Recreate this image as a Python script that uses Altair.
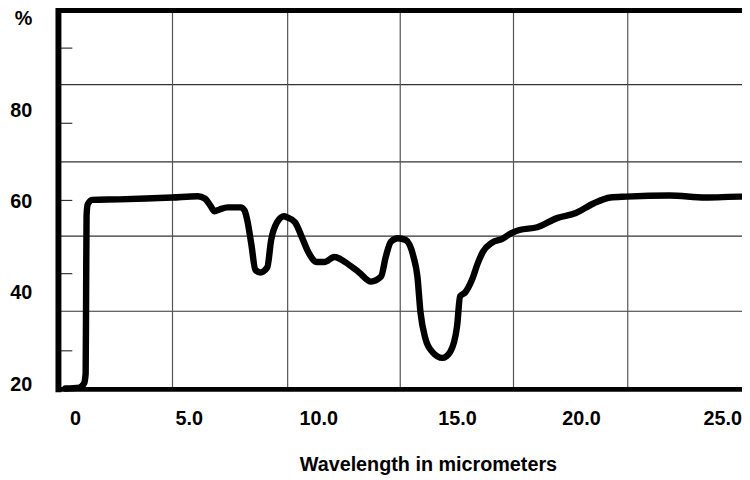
import altair as alt
import pandas as pd

# ---- data ----
wavelength = [-0.42, 0.19, 0.40, 0.47, 0.49, 0.51, 0.56, 0.75, 1.93, 4.27,
              5.35, 5.62, 5.85, 6.00, 6.19, 6.50, 7.00, 7.15, 7.26, 7.42,
              7.57, 7.76, 8.03, 8.18, 8.41, 8.68, 8.79, 9.10, 9.36, 9.63,
              9.94, 10.22, 10.58, 11.01, 11.47, 11.90, 12.26, 12.43, 12.61, 12.86,
              13.15, 13.43, 13.57, 13.68, 13.86, 14.11, 14.47, 14.75, 15.00, 15.12,
              15.32, 15.60, 15.84, 16.04, 16.40, 16.80, 17.19, 17.51, 18.23, 19.03,
              19.79, 20.44, 21.04, 21.60, 23.14, 24.40, 25.63, 25.70]
percent = [19.1, 19.3, 20.2, 22.4, 40.0, 57.0, 59.4, 60.4, 60.5, 60.9,
           61.2, 60.7, 59.0, 57.9, 58.3, 58.75, 58.75, 58.1, 55.9, 50.5,
           45.1, 44.5, 45.6, 51.6, 55.5, 56.8, 56.6, 55.5, 52.3, 48.8,
           46.8, 46.8, 47.9, 46.6, 44.5, 42.5, 43.6, 47.9, 51.2, 52.0,
           51.6, 47.9, 43.6, 35.8, 30.0, 27.1, 25.8, 27.1, 32.8, 39.3,
           40.1, 42.9, 46.6, 49.0, 51.0, 51.8, 53.1, 53.8, 54.4, 56.4,
           57.5, 59.6, 60.9, 61.1, 61.35, 60.9, 61.1, 61.1]

x_label_values = [0, 5, 10, 15, 20, 25]
x_domain = [-0.726, 0, 5, 10, 15, 20, 25, 25.70]
x_range = [0, 16.7, 131.7, 262.7, 403, 528.3, 671, 691]
x_grid = [4.287, 8.817, 12.951, 17.275, 21.654]

y_label_values = [20, 40, 60, 80, 100]
y_domain = [18.9, 101.85]
y_grid = [36.01, 52.47, 68.72, 85.61]
y_minor_ticks = [27.35, 44.24, 60.27, 77.16, 93.62]

W, H = 691, 383
FONT = "Liberation Sans"

xscale = alt.Scale(domain=x_domain, range=x_range, nice=False, zero=False)
yscale = alt.Scale(domain=y_domain, nice=False, zero=False)

x_axis = alt.Axis(
    values=x_label_values,
    labelExpr="datum.value == 0 ? '0' : format(datum.value, '.1f')",
    ticks=False, tickSize=0, domain=False, grid=False,
    labelFont=FONT, labelFontSize=20, labelFontWeight="bold",
    labelColor="black", labelPadding=29, labelBaseline="middle",
    labelFlush=False,
    title="Wavelength in micrometers", titleFont=FONT, titleFontSize=20,
    titleFontWeight="bold", titleColor="black",
    titleX=373.5, titleY=82, titleBaseline="alphabetic")
y_axis = alt.Axis(
    values=y_label_values,
    labelExpr="datum.value == 100 ? '%' : datum.label",
    ticks=False, tickSize=0, domain=False, grid=False,
    labelFont=FONT, labelFontSize=20, labelFontWeight="bold",
    labelColor="black", labelPadding=27, title="")

curve_df = pd.DataFrame({"w": wavelength, "p": percent})

curve = alt.Chart(curve_df).mark_line(
    color="black", strokeWidth=6.5, strokeCap="round", strokeJoin="round",
    interpolate="monotone"
).encode(
    x=alt.X("w:Q", scale=xscale, axis=x_axis),
    y=alt.Y("p:Q", scale=yscale, axis=y_axis),
)

hgrid = alt.Chart(pd.DataFrame({"p": y_grid})).mark_rule(
    color="#333", strokeWidth=1.2
).encode(y=alt.Y("p:Q", scale=yscale, axis=y_axis))

vgrid = alt.Chart(pd.DataFrame({"w": x_grid})).mark_rule(
    color="#555", strokeWidth=1.2
).encode(x=alt.X("w:Q", scale=xscale, axis=x_axis))

minor = alt.Chart(pd.DataFrame({"p": y_minor_ticks})).mark_rule(
    color="#333", strokeWidth=1.2
).encode(y=alt.Y("p:Q", scale=yscale, axis=y_axis), x=alt.value(0), x2=alt.value(14))

one = pd.DataFrame({"k": [0]})
left_border = alt.Chart(one).mark_rule(color="black", strokeWidth=6, strokeCap="square").encode(
    x=alt.value(0), y=alt.value(0), y2=alt.value(H))
top_border = alt.Chart(one).mark_rule(color="black", strokeWidth=5, strokeCap="square").encode(
    x=alt.value(0), x2=alt.value(W), y=alt.value(0))
bottom_border = alt.Chart(one).mark_rule(color="black", strokeWidth=5, strokeCap="square").encode(
    x=alt.value(0), x2=alt.value(W), y=alt.value(H))

chart = alt.layer(
    hgrid, vgrid, minor, curve, left_border, top_border, bottom_border
).properties(
    width=W, height=H,
    padding={"left": 51, "top": 0, "right": 0, "bottom": 86},
    autosize=alt.AutoSizeParams(type="none"),
).configure_view(stroke="transparent")

chart.save("out.html", embed_options={"renderer": "svg", "actions": False})
